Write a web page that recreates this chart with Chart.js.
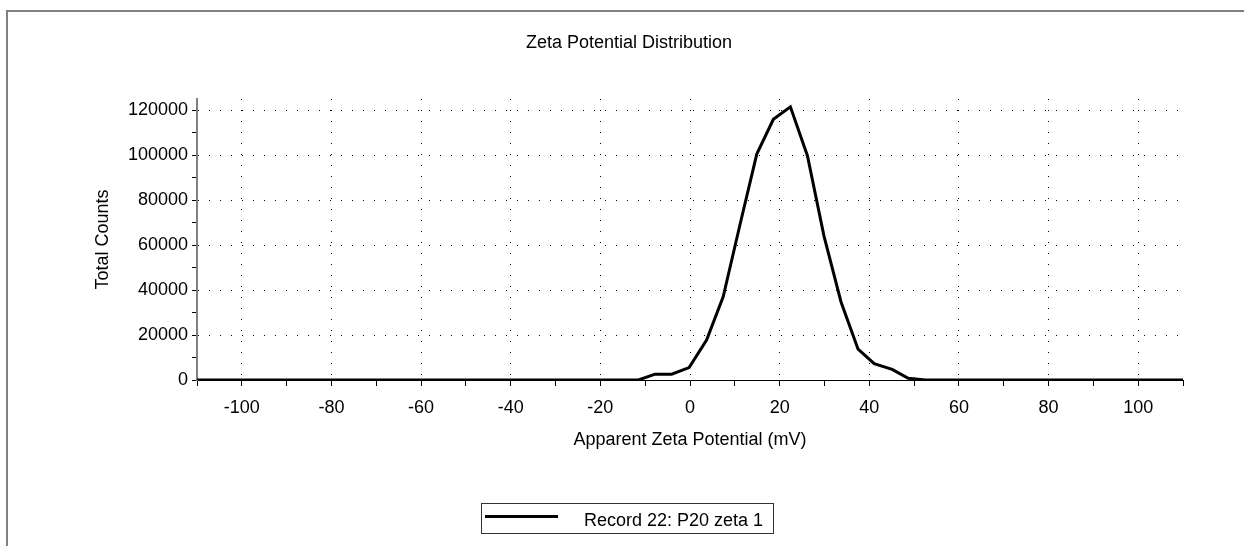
<!DOCTYPE html>
<html>
<head>
<meta charset="utf-8">
<script src="https://cdn.jsdelivr.net/npm/chart.js@4"></script>
<style>
html,body{margin:0;padding:0;background:#fff;overflow:hidden;width:1244px;height:546px;}
#frame{position:absolute;left:6px;top:10px;width:1300px;height:600px;border-left:2px solid #808080;border-top:2px solid #808080;box-sizing:border-box;}
#wrap{position:absolute;left:0;top:0;width:1244px;height:546px;}
</style>
</head>
<body>
<div id="frame"></div>
<div id="wrap"><canvas id="c" width="1244" height="546"></canvas></div>
<script>
// ---- data ----
const chartTitle = 'Zeta Potential Distribution';
const seriesLabel = 'Record 22: P20 zeta 1';
const xAxisTitle = 'Apparent Zeta Potential (mV)';
const yAxisTitle = 'Total Counts';
const zeta = [-110, -11.5, -7.8, -4.1, -0.2, 3.7, 7.4, 11.2, 14.9, 18.6, 22.4, 26.2, 29.9, 33.7, 37.5, 41.1, 45.1, 48.7, 52.5, 110];
const counts = [0, 0, 2600, 2600, 5500, 17800, 37000, 69500, 100500, 116000, 121500, 99800, 64000, 34700, 13700, 7300, 4700, 800, 0, 0];
const xTickValues = [-110, -100, -90, -80, -70, -60, -50, -40, -30, -20, -10, 0, 10, 20, 30, 40, 50, 60, 70, 80, 90, 100, 110];
const xLabeled = [-100, -80, -60, -40, -20, 0, 20, 40, 60, 80, 100];
const yTickValues = [0, 10000, 20000, 30000, 40000, 50000, 60000, 70000, 80000, 90000, 100000, 110000, 120000];
const yLabeled = [0, 20000, 40000, 60000, 80000, 100000, 120000];

const FONT = '"Liberation Sans", Arial, sans-serif';
Chart.defaults.font.family = FONT;
Chart.defaults.font.size = 18;
Chart.defaults.color = '#000';

const overlay = {
  id: 'overlay',
  afterDraw(chart) {
    const ctx = chart.ctx;
    ctx.save();
    ctx.font = '18px ' + FONT;
    ctx.fillStyle = '#000';
    ctx.textAlign = 'center';
    ctx.textBaseline = 'alphabetic';
    ctx.fillText(chartTitle, 629, 48);
    // legend box
    ctx.strokeStyle = '#333';
    ctx.lineWidth = 1;
    ctx.strokeRect(481.5, 503.5, 292, 30);
    ctx.strokeStyle = '#000';
    ctx.lineWidth = 3;
    ctx.beginPath();
    ctx.moveTo(485, 516.5);
    ctx.lineTo(558, 516.5);
    ctx.stroke();
    ctx.textAlign = 'left';
    ctx.fillText(chart.data.datasets[0].label, 584, 526);
    ctx.restore();
  }
};

new Chart(document.getElementById('c'), {
  type: 'line',
  data: {
    datasets: [{
      label: seriesLabel,
      data: zeta.map((x, i) => ({x: x, y: counts[i]})),
      borderColor: '#000',
      backgroundColor: '#000',
      borderWidth: 3,
      pointRadius: 0,
      tension: 0,
      fill: false
    }]
  },
  options: {
    responsive: false,
    animation: false,
    layout: {padding: {left: 0, top: 99, right: 61, bottom: 86}},
    plugins: {legend: {display: false}, title: {display: false}, tooltip: {enabled: false}},
    scales: {
      x: {
        type: 'linear',
        min: -110,
        max: 110,
        afterBuildTicks: s => { s.ticks = xTickValues.map(v => ({value: v})); },
        afterFit: s => { s.height = 80; },
        ticks: {
          autoSkip: false,
          maxRotation: 0,
          padding: 11,
          color: '#000',
          font: {size: 18},
          callback: v => xLabeled.includes(v) ? String(v) : ''
        },
        grid: {
          color: c => (c.tick && xLabeled.includes(c.tick.value)) ? '#000' : 'rgba(0,0,0,0)',
          tickColor: '#000',
          tickLength: 6,
          tickBorderDash: [],
          lineWidth: 1
        },
        border: {display: true, color: '#000', width: 1, dash: [1, 10]},
        title: {display: true, text: xAxisTitle, color: '#000', font: {size: 18}, padding: {top: 0, bottom: 9}}
      },
      y: {
        type: 'linear',
        min: 0,
        max: 125000,
        afterBuildTicks: s => { s.ticks = yTickValues.map(v => ({value: v})); },
        afterFit: s => { s.width = 197; },
        ticks: {
          autoSkip: false,
          padding: 4,
          color: '#000',
          font: {size: 18},
          callback: v => yLabeled.includes(v) ? String(v) : ''
        },
        grid: {
          color: c => (c.tick && yLabeled.includes(c.tick.value) && c.tick.value !== 0) ? '#000' : 'rgba(0,0,0,0)',
          tickColor: '#000',
          tickLength: 5,
          tickBorderDash: [],
          lineWidth: 1
        },
        border: {display: true, color: '#808080', width: 2, dash: [1, 10]},
        title: {display: true, text: yAxisTitle, color: '#000', font: {size: 18}, padding: {top: 92, bottom: 0}}
      }
    }
  },
  plugins: [overlay]
});
</script>
</body>
</html>
